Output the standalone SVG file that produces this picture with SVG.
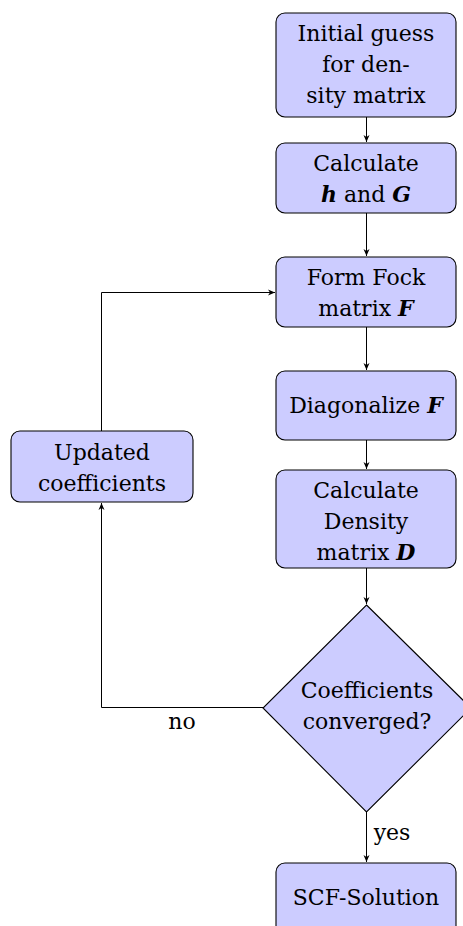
<svg xmlns="http://www.w3.org/2000/svg" width="463" height="926" viewBox="0 0 463 926">
<style>
.box{fill:#ccccff;stroke:#000;stroke-width:1.1}
.t{font-family:"DejaVu Serif","Liberation Serif",serif;font-size:22px;fill:#000;text-anchor:middle}
.m{font-weight:bold;font-style:italic}
.c{fill:none;stroke:#000;stroke-width:1}
</style>
<defs>
<marker id="a" markerWidth="8" markerHeight="8" refX="7" refY="4" orient="auto" markerUnits="userSpaceOnUse">
<path d="M0,1 L7,4 L0,7 L2,4 Z" fill="#000"/>
</marker>
</defs>
<g id="connectors">
<line class="c" x1="366.5" y1="117" x2="366.5" y2="142" marker-end="url(#a)"/>
<line class="c" x1="366.5" y1="213" x2="366.5" y2="256" marker-end="url(#a)"/>
<line class="c" x1="366.5" y1="327" x2="366.5" y2="370" marker-end="url(#a)"/>
<line class="c" x1="366.5" y1="440" x2="366.5" y2="469" marker-end="url(#a)"/>
<line class="c" x1="366.5" y1="568" x2="366.5" y2="604" marker-end="url(#a)"/>
<line class="c" x1="366.5" y1="812" x2="366.5" y2="862" marker-end="url(#a)"/>
<polyline class="c" points="263,707.5 101.5,707.5 101.5,503" marker-end="url(#a)"/>
<polyline class="c" points="101.5,431 101.5,292.5 275,292.5" marker-end="url(#a)"/>
<text class="t" x="182" y="729">no</text>
<text class="t" x="392" y="840">yes</text>
</g>
<g id="n1">
<rect class="box" x="276" y="13" width="180" height="104" rx="9"/>
<text class="t" x="366" y="41">Initial guess</text>
<text class="t" x="366" y="72">for den-</text>
<text class="t" x="366" y="103">sity matrix</text>
</g>
<g id="n2">
<rect class="box" x="276" y="143" width="180" height="70" rx="9"/>
<text class="t" x="366" y="171">Calculate</text>
<text class="t" x="366" y="202"><tspan class="m">h</tspan> and <tspan class="m">G</tspan></text>
</g>
<g id="n3">
<rect class="box" x="276" y="257" width="180" height="70" rx="9"/>
<text class="t" x="366" y="285">Form Fock</text>
<text class="t" x="366" y="316">matrix <tspan class="m">F</tspan></text>
</g>
<g id="n4">
<rect class="box" x="276" y="371" width="180" height="69" rx="9"/>
<text class="t" x="366" y="413">Diagonalize <tspan class="m">F</tspan></text>
</g>
<g id="n5">
<rect class="box" x="276" y="470" width="180" height="98" rx="9"/>
<text class="t" x="366" y="498">Calculate</text>
<text class="t" x="366" y="529">Density</text>
<text class="t" x="366" y="560">matrix <tspan class="m">D</tspan></text>
</g>
<g id="n6">
<rect class="box" x="11" y="431" width="182" height="71" rx="9"/>
<text class="t" x="102" y="460">Updated</text>
<text class="t" x="102" y="491">coefficients</text>
</g>
<g id="n7">
<polygon class="box" points="366.5,605 471,708 366.5,812 263,708"/>
<text class="t" x="367" y="698">Coefficients</text>
<text class="t" x="367" y="729">converged?</text>
</g>
<g id="n8">
<rect class="box" x="276" y="863" width="180" height="80" rx="9"/>
<text class="t" x="366" y="905">SCF-Solution</text>
</g>
</svg>
